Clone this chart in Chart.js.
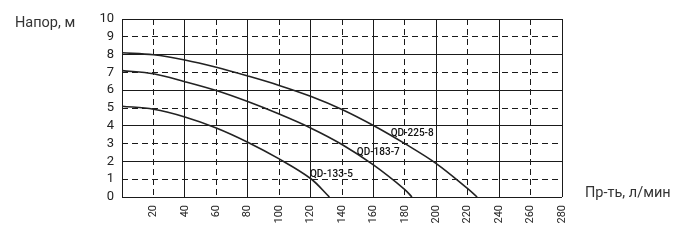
<!DOCTYPE html>
<html><head><meta charset="utf-8">
<script src="https://cdn.jsdelivr.net/npm/chart.js@4"></script>
<style>html,body{margin:0;padding:0;background:#fff;overflow:hidden}</style>
</head><body>
<canvas id="c" width="684" height="241"></canvas>
<script>
// ---- data ----
const seriesNames = ['QD-133-5', 'QD-183-7', 'QD-225-8'];
const flow133 = [0, 20, 40, 60, 80, 100, 120, 132];
const head133 = [5.1, 4.93, 4.5, 3.88, 3.08, 2.14, 1.04, 0];
const flow183 = [0, 20, 40, 60, 80, 100, 120, 140, 160, 180, 184.5];
const head183 = [7.1, 6.92, 6.48, 5.98, 5.36, 4.66, 3.88, 2.95, 1.8, 0.42, 0];
const flow225 = [0, 20, 40, 60, 80, 100, 120, 140, 160, 180, 200, 220, 226];
const head225 = [8.1, 7.99, 7.7, 7.29, 6.8, 6.27, 5.66, 4.92, 4.02, 3.0, 1.88, 0.47, 0];
const xTickLabels = [20, 40, 60, 80, 100, 120, 140, 160, 180, 200, 220, 240, 260, 280];
const yTickLabels = [0, 1, 2, 3, 4, 5, 6, 7, 8, 9, 10];
const yTitle = 'Напор, м';
const xTitle = 'Пр-ть, л/мин';

const flows = [flow133, flow183, flow225];
const heads = [head133, head183, head225];
const labelAnchors = [[119.6, 1.27], [149.4, 2.49], [171, 3.58]];

const INK = '#1a1a1a';
const FONT = 'Roboto, "Liberation Sans", sans-serif';

const datasets = seriesNames.map((name, i) => ({
  label: name,
  data: flows[i].map((q, k) => ({ x: q, y: heads[i][k] })),
  borderColor: '#222',
  borderWidth: 1.6,
  pointRadius: 0,
  fill: false,
  tension: 0.35
}));

const solidOrNone = (step) => (ctx) => (ctx.tick && Math.abs(ctx.tick.value % step) < 1e-6) ? INK : 'rgba(0,0,0,0)';
const dashedOrNone = (step, half) => (ctx) => {
  if (!ctx.tick) return 'rgba(0,0,0,0)';
  const v = ctx.tick.value;
  return (Math.abs(v % step) > 1e-6 && Math.abs(v % half) < 1e-6) ? INK : 'rgba(0,0,0,0)';
};

const textPlugin = {
  id: 'texts',
  afterDraw(chart) {
    const ctx = chart.ctx;
    const xs = chart.scales.x, ys = chart.scales.y;
    ctx.save();
    ctx.fillStyle = '#111';
    ctx.font = '500 10px ' + FONT;
    ctx.textAlign = 'left';
    ctx.textBaseline = 'middle';
    seriesNames.forEach((n, i) => {
      ctx.fillText(n, xs.getPixelForValue(labelAnchors[i][0]), ys.getPixelForValue(labelAnchors[i][1]));
    });
    ctx.fillStyle = '#333';
    ctx.font = '14.5px ' + FONT;
    ctx.textBaseline = 'middle';
    ctx.fillText(yTitle, 15, 23);
    ctx.fillText(xTitle, 585, ys.getPixelForValue(0) - 4);
    ctx.restore();
  }
};

new Chart(document.getElementById('c'), {
  type: 'line',
  data: { datasets },
  options: {
    responsive: false,
    animation: false,
    devicePixelRatio: 1,
    layout: { padding: { left: 0, right: 122, top: 19, bottom: 0 } },
    plugins: { legend: { display: false }, tooltip: { enabled: false } },
    scales: {
      x: {
        type: 'linear', position: 'bottom', min: 0, max: 280,
        afterBuildTicks: (s) => { s.ticks = [0].concat(xTickLabels).map(v => ({ value: v })); },
        ticks: {
          autoSkip: false, minRotation: 90, maxRotation: 90, padding: 8, color: '#222',
          font: { family: FONT, size: 11 },
          callback: (v) => (v === 0 ? '' : String(v))
        },
        grid: { color: solidOrNone(40), lineWidth: 1, drawTicks: false },
        border: { display: false },
        afterFit: (s) => { s.height = 44; }
      },
      x2: {
        type: 'linear', position: 'bottom', min: 0, max: 280,
        afterBuildTicks: (s) => { s.ticks = [0].concat(xTickLabels).map(v => ({ value: v })); },
        ticks: { display: false, autoSkip: false },
        grid: { color: dashedOrNone(40, 20), lineWidth: 1, drawTicks: false },
        border: { display: false, dash: [6, 4] },
        afterFit: (s) => { s.height = 0; }
      },
      y: {
        type: 'linear', position: 'left', min: 0, max: 10,
        afterBuildTicks: (s) => { s.ticks = yTickLabels.map(v => ({ value: v })); },
        ticks: { autoSkip: false, padding: 8, color: '#222', font: { family: FONT, size: 13 } },
        grid: { color: solidOrNone(2), lineWidth: 1, drawTicks: false },
        border: { display: false },
        afterFit: (s) => { s.width = 122; }
      },
      y2: {
        type: 'linear', position: 'left', min: 0, max: 10,
        afterBuildTicks: (s) => { s.ticks = yTickLabels.map(v => ({ value: v })); },
        ticks: { display: false, autoSkip: false },
        grid: { color: dashedOrNone(2, 1), lineWidth: 1, drawTicks: false },
        border: { display: false, dash: [6, 4] },
        afterFit: (s) => { s.width = 0; }
      }
    }
  },
  plugins: [textPlugin]
});
</script>
</body></html>
